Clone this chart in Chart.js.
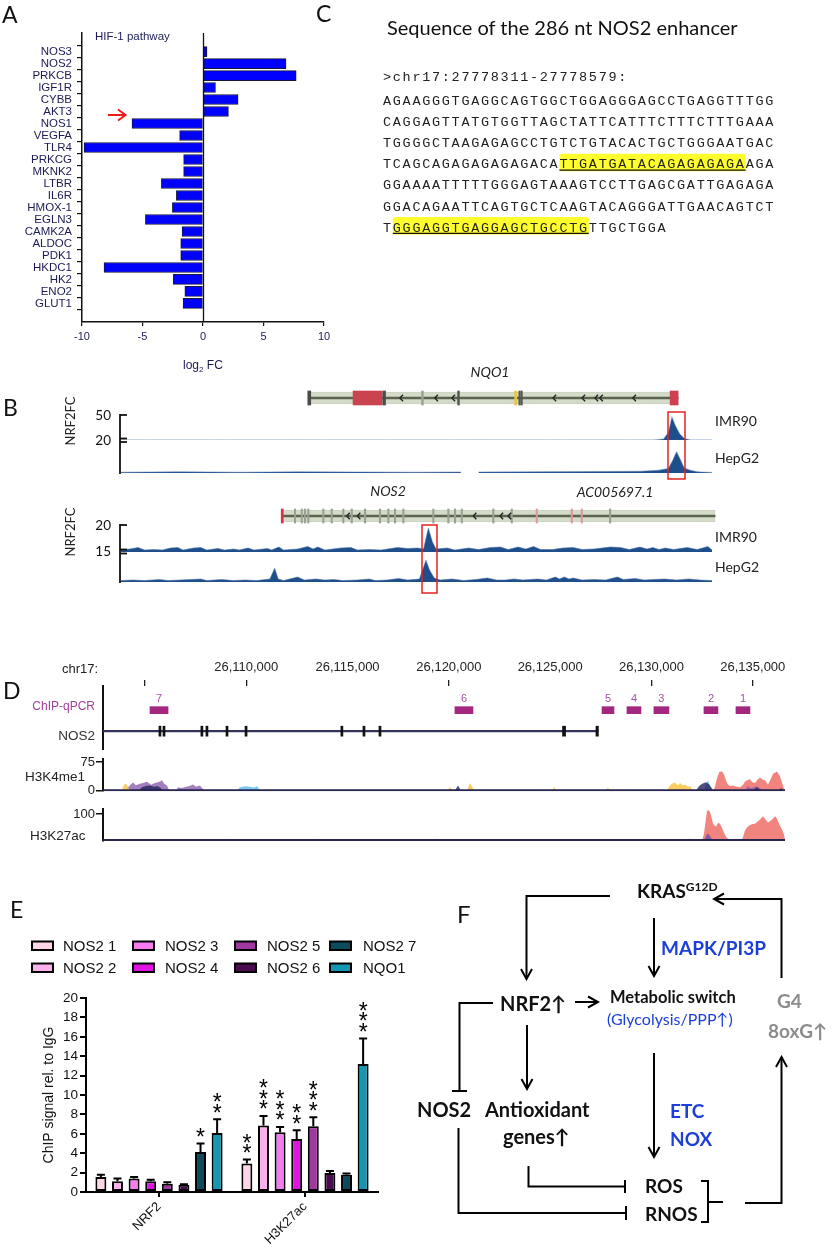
<!DOCTYPE html>
<html><head><meta charset="utf-8">
<script src="https://cdn.jsdelivr.net/npm/chart.js@4.4.0/dist/chart.umd.min.js"></script>
<style>
html,body{margin:0;padding:0;background:#fff}
#page{position:relative;width:837px;height:1256px;overflow:hidden;background:#fff}
canvas{position:absolute}
#ov{position:absolute;left:0;top:0;pointer-events:none}
</style></head>
<body><div id="page"></div>
<script>
// ---------------- Panel A : HIF-1 pathway, log2 FC ----------------
const aGenes = ['NOS3','NOS2','PRKCB','IGF1R','CYBB','AKT3','NOS1','VEGFA','TLR4','PRKCG','MKNK2','LTBR','IL6R','HMOX-1','EGLN3','CAMK2A','ALDOC','PDK1','HKDC1','HK2','ENO2','GLUT1'];
const aLog2FC = [0.33,6.86,7.7,1.03,2.9,2.1,-5.87,-1.93,-9.83,-1.6,-1.6,-3.44,-2.2,-2.53,-4.76,-1.73,-1.84,-1.84,-8.18,-2.45,-1.5,-1.65];
const aTicks = [-10,-5,0,5,10];

// ---------------- Panel B : NRF2 ChIP-seq tracks (position 0-100 along locus, signal) ----------------
const bNqo1Imr90 = [[0,0.2],[15,0.25],[30,0.2],[45,0.25],[60,0.2],[75,0.25],[90,0.2],[91.8,1.2],[92.6,8],[93.2,24],[93.8,15],[94.6,6],[95.4,1.5],[96.5,0.2],[100,0.2]];
const bNqo1HepG2 = [[0,0.8],[10,1.2],[20,0.8],[30,1.2],[40,1],[50,0.8],[57.5,1],[58.5,null],[60.5,1],[70,1.2],[80,1.4],[88,1.8],[91,2.8],[92.6,4.5],[93.3,12],[94.0,21.3],[94.6,14],[95.3,5],[96.3,2.8],[97.5,1.2],[100,0.6]];
const bNos2Imr90 = [[0,2],[1.5,3],[2.9,4.5],[4,2],[5.5,2.5],[7,2],[8.4,4],[9.6,4.5],[10.5,2],[12.3,4],[13.5,4.5],[14.5,2],[16.4,3.5],[17.5,2],[19.1,3],[20,2],[21.5,4],[22.5,2],[24.8,3.5],[25.5,2],[26.7,5],[27.5,2],[29.9,3],[31.6,5.5],[32.5,3],[33.3,5],[34.5,2],[37.2,4],[38.9,4.5],[40,2],[42,2.5],[44,2],[46.8,4.5],[48.5,3.5],[50.2,4],[51.2,3],[52,23.7],[52.7,10],[53.3,3],[55.2,4],[56.5,2],[58.8,4],[60.5,2.5],[62.5,4.5],[64.2,5],[65.5,2.5],[67.2,5],[68.5,3],[69.8,5.5],[71,2.5],[73,2.5],[74.8,4],[76.5,4.5],[78,2.5],[80,3],[82.8,5],[84.5,4.5],[86,2.5],[87.8,5],[89,3],[90,4.5],[91,2.5],[92.1,4],[93.5,2.5],[95.8,4.5],[97.5,2.5],[99.3,5.5],[100,2]];
const bNos2HepG2 = [[0,1.5],[2,2],[4,1.5],[6.5,2.5],[8,1.5],[10,2],[13.5,3],[14.5,1.5],[17,2.5],[19,1.5],[21,2],[23,1.5],[25.2,3],[26,13.7],[26.6,3],[27.5,1.5],[29.9,5],[31,2],[33,3],[34.5,2],[36,2.5],[37.5,1.5],[40,2],[42,3],[43,1.5],[45,2],[47,3.5],[48.5,2],[50.5,3],[51.6,21.7],[52.2,12],[53,4],[54,2],[56,3],[58,1.5],[60,2.5],[62,4],[63.5,2],[65,2],[66.5,3],[68,2],[70.5,3],[72,2],[73.5,5],[74.2,3],[75,5],[75.8,3],[76.5,4],[78,2],[80,2.5],[82,2],[84,5],[85,2.5],[87,3.5],[88.5,2],[90,2.5],[92,3],[94,2],[96,3],[98,2],[100,1.5]];
// gene models (same 0-100 coordinate): [start, end, colour]
const bNqo1Span = [31.8,94.25];
const bNqo1Feats = [[31.6,32.1,'#4a4a4a'],[39.26,44.16,'#c9444f'],[44.3,44.75,'#4a4a4a'],[50.85,51.15,'#9aa094'],[56.95,57.25,'#555555'],[66.6,66.95,'#e6c840'],[67.3,67.55,'#555555'],[67.65,67.9,'#555555'],[92.9,94.25,'#cf4050']];
const bNqo1Chev = [47.2,53.1,56.0,73.1,78.0,80.2,81.0,86.6];
const bNos2Span = [27.24,100.5];
const bNos2Grey = [29.44,30.58,31.13,31.69,34.23,35.65,37.61,39.04,41.29,43.82,45.23,46.36,47.77,52.84,55.38,56.51,57.65,62.99,66.11,82.74];
const bNos2Pink = [70.34,76.26,77.95];
const bNos2Chev = [38.19,39.98,59.61,64.13,65.48];

// ---------------- Panel D : UCSC view, kb offset from chr17:26,100,000 ----------------
const dRange = [2.93, 36.59];
const dRulerTicks = [5,10,15,20,25,30,35];
const dRulerLabels = ['','26,110,000','26,115,000','26,120,000','26,125,000','26,130,000','26,135,000'];
const dRulerHidden = [15,25];
const dPrimerNames = ['7','6','5','4','3','2','1'];
const dPrimerStart = [5.25,20.30,27.56,28.79,30.12,32.59,34.17];
const dPrimerEnd   = [6.14,21.19,28.15,29.48,30.86,33.28,34.86];
const dGene = [2.93,27.36];
const dExonStart = [5.69,5.89,7.76,8.01,9.00,9.94,14.67,15.76,16.55,25.61,27.26];
const dExonEnd   = [5.79,5.99,7.86,8.11,9.10,10.04,14.77,15.86,16.65,25.76,27.38];
const dK4Salmon = [[32.95,0],[33.09,3],[33.15,14],[33.22,30],[33.34,48],[33.48,51],[33.58,42],[33.68,26],[33.78,15],[33.9,12],[34.02,13],[34.2,10],[34.37,9],[34.5,14],[34.62,24],[34.75,28],[34.86,30],[34.98,22],[35.11,20],[35.25,30],[35.36,34],[35.48,29],[35.6,27],[35.75,15],[35.88,30],[36.0,44],[36.2,50],[36.34,38],[36.44,22],[36.52,8],[36.59,0]];
const dK4Purple = [[4.05,0],[4.16,8],[4.3,16],[4.41,21],[4.55,14],[4.75,18],[4.9,20],[5.1,23],[5.3,15],[5.45,19],[5.59,21],[5.75,24],[5.84,27],[5.95,18],[6.09,13],[6.2,0],[6.55,0],[6.63,9],[6.8,7],[6.95,9],[7.2,12],[7.37,16],[7.52,10],[7.71,13],[7.86,4],[7.95,0],[34.6,0],[34.75,12],[34.9,6],[35.2,11],[35.36,6],[35.5,0]];
const dK4Yellow = [[3.85,0],[3.95,12],[4.01,19],[4.12,14],[4.25,0],[19.9,0],[20.05,9],[20.2,0],[20.9,0],[21.04,20],[21.2,5],[21.3,0],[25.1,0],[25.19,10],[25.3,0],[27.75,0],[27.85,8],[27.95,0],[30.75,0],[30.9,12],[31.01,18],[31.16,21],[31.3,14],[31.41,20],[31.55,13],[31.65,16],[31.8,10],[31.9,12],[32.05,0]];
const dK4Blue = [[9.55,0],[9.69,9],[9.94,11],[10.18,10],[10.4,8],[10.53,11],[10.7,0],[32.6,0],[32.72,20],[32.79,27],[32.9,10],[32.97,0]];
const dK4Navy = [[4.7,0],[4.85,9],[5.05,12],[5.25,13],[5.45,10],[5.6,12],[5.75,8],[5.9,0],[20.3,0],[20.45,13],[20.6,0],[32.2,0],[32.35,12],[32.5,18],[32.7,22],[32.85,16],[32.95,8],[33.05,0],[35.0,0],[35.2,9],[35.4,0],[36.25,0],[36.4,7],[36.5,0]];
const dK27Salmon = [[32.5,0],[32.58,20],[32.64,54],[32.74,112],[32.82,114],[32.89,108],[32.97,85],[33.04,63],[33.12,55],[33.19,52],[33.29,66],[33.38,63],[33.46,50],[33.53,38],[33.63,20],[33.73,8],[33.87,0],[34.37,0],[34.47,3],[34.55,20],[34.62,38],[34.74,50],[34.86,58],[35.0,62],[35.11,63],[35.25,72],[35.36,79],[35.5,91],[35.62,80],[35.75,67],[35.85,72],[35.95,79],[36.1,91],[36.18,85],[36.25,71],[36.34,55],[36.44,42],[36.54,21],[36.59,0]];
const dK27Purple = [[32.6,0],[32.68,12],[32.75,25],[32.85,20],[32.92,12],[33.0,0]];
const dK27Yellow = [[4.85,0],[5.0,4],[5.15,0],[9.05,0],[9.2,5],[9.35,0],[12.0,0],[12.1,4],[12.2,0],[13.4,0],[13.5,6],[13.65,0],[19.3,0],[19.4,6],[19.5,0],[31.7,0],[31.85,6],[32.0,0]];
const dBaseline = [[2.93,0.8],[36.59,0.8]];

// ---------------- Panel E : ChIP-qPCR ----------------
const eGroups = ['NRF2','H3K27ac'];
const eSeries = ['NOS2 1','NOS2 2','NOS2 3','NOS2 4','NOS2 5','NOS2 6','NOS2 7','NQO1'];
const eColors = ['#fcd5e7','#fab1ec','#f47cf0','#e014e0','#a0399f','#4b0b4f','#0b4b5b','#1597b3'];
const eMeans = [[1.55,2.93],[1.1,6.85],[1.38,6.16],[1.1,5.47],[0.86,6.78],[0.76,1.96],[4.13,1.79],[6.09,13.2]];
const eErr   = [[0.24,0.41],[0.28,0.99],[0.17,0.55],[0.17,0.9],[0.14,0.93],[0.05,0.21],[0.87,0.11],[1.41,2.63]];
const eStars = [['','**'],['','***'],['','***'],['','**'],['','***'],['',''],['*',''],['**','***']];
const eYTicks = {min:0,max:20,step:2};

// ---------------- Panel C : sequence ----------------
const cHeader = '>chr17:27778311-27778579:';
const cSeq = ['AGAAGGGTGAGGCAGTGGCTGGAGGGAGCCTGAGGTTTGG','CAGGAGTTATGTGGTTAGCTATTCATTTCTTTCTTTGAAA','TGGGGCTAAGAGAGCCTGTCTGTACACTGCTGGGAATGAC','TCAGCAGAGAGAGAGACATTGATGATACAGAGAGAGAAGA','GGAAAATTTTTGGGAGTAAAGTCCTTGAGCGATTGAGAGA','GGACAGAATTCAGTGCTCAAGTACAGGGATTGAACAGTCT','TGGGAGGTGAGGAGCTGCCTGTTGCTGGA'];
const cMotifs = [[3,18,19],[6,1,20]]; // [line, first char, length]

// =================================================================
const page = document.getElementById('page');
const pts = a => a.map(p => ({x:p[0], y:p[1]}));
Chart.defaults.font.family = "'Liberation Sans', Arial, sans-serif";

function mk(left, top, w, h, cfg){
  const c = document.createElement('canvas');
  c.width = w; c.height = h;
  c.style.left = left+'px'; c.style.top = top+'px'; c.style.width = w+'px'; c.style.height = h+'px';
  page.appendChild(c);
  cfg.options = Object.assign({responsive:false, maintainAspectRatio:false, animation:false, devicePixelRatio:1, events:[]}, cfg.options||{});
  cfg.options.plugins = Object.assign({legend:{display:false}, tooltip:{enabled:false}}, cfg.options.plugins||{});
  return new Chart(c, cfg);
}

// ----- Panel A chart
const zeroLine = {id:'zeroLine', afterDatasetsDraw(ch){
  const {ctx, chartArea:a, scales:{x}} = ch; const px = Math.round(x.getPixelForValue(0))+0.5;
  ctx.save(); ctx.strokeStyle='#111'; ctx.lineWidth=1.3; ctx.beginPath(); ctx.moveTo(px,a.top); ctx.lineTo(px,a.bottom); ctx.stroke(); ctx.restore();
}};
mk(0,0,350,380,{
  type:'bar',
  data:{datasets:[{data:aLog2FC.map((v,i)=>({x:v,y:i})), backgroundColor:'#0000ff', borderColor:'#17173d', borderWidth:1, barThickness:10, borderSkipped:false}]},
  options:{indexAxis:'y', layout:{padding:{top:33,right:26,left:0,bottom:0}},
    scales:{
      x:{type:'linear', min:-10, max:10, afterFit:s=>{s.height=58}, afterBuildTicks:s=>{s.ticks=aTicks.map(v=>({value:v}))},
         ticks:{callback:v=>String(v), font:{size:11}, color:'#1b1b55', padding:4, maxRotation:0, autoSkip:false},
         grid:{drawOnChartArea:false, tickLength:4, color:'#111', lineWidth:1.2}, border:{color:'#111', width:1.5}},
      y:{type:'linear', reverse:true, min:-1, max:22, afterFit:s=>{s.width=82}, afterBuildTicks:s=>{s.ticks=aGenes.map((g,i)=>({value:i}))},
         ticks:{callback:v=>aGenes[v], font:{size:11.5}, color:'#1b1b55', padding:5, autoSkip:false},
         grid:{drawOnChartArea:false, tickLength:5, color:'#111', lineWidth:1.2}, border:{color:'#111', width:1.5}}
    }},
  plugins:[zeroLine]
});

// ----- Panel B tracks
function bTrack(top, h, ymax, data, edge){
  return mk(121, top, 591, h, {type:'line',
    data:{datasets:[{data:pts(data), fill:'origin', backgroundColor:'#1f4f8a', borderColor:edge, borderWidth:1, pointRadius:0, tension:0, spanGaps:false}]},
    options:{layout:{padding:0}, scales:{x:{type:'linear',min:0,max:100,display:false}, y:{min:0,max:ymax,display:false}}}});
}
bTrack(415,25,25,bNqo1Imr90,'rgba(200,214,230,0.6)');
bTrack(440,33,33,bNqo1HepG2,'rgba(90,130,180,0.5)');
bTrack(527,25,25,bNos2Imr90,'rgba(70,110,165,0.55)');
bTrack(557,25,25,bNos2HepG2,'rgba(70,110,165,0.55)');

function chevPlugin(list){ return {id:'chev', afterDatasetsDraw(ch){
  const {ctx, scales:{x,y}} = ch; const cy = y.getPixelForValue(1);
  ctx.save(); ctx.strokeStyle='#222'; ctx.lineWidth=1.4; ctx.beginPath();
  list.forEach(v=>{const px=x.getPixelForValue(v); ctx.moveTo(px+3,cy-3.2); ctx.lineTo(px,cy); ctx.lineTo(px+3,cy+3.2);});
  ctx.stroke(); ctx.restore();
}};}
function geneChart(top, span, feats, chev){
  return mk(121, top, 597, 16, {type:'bar',
    data:{datasets:[
      {data:feats.map(f=>({x:[f[0],f[1]],y:1})), backgroundColor:feats.map(f=>f[2]), barThickness:14, grouped:false},
      {data:[{x:span,y:1}], backgroundColor:'#59644f', barThickness:1.6, grouped:false},
      {data:[{x:span,y:1}], backgroundColor:'#d4dbc8', borderColor:'#b8c0ab', borderWidth:0.6, barThickness:12, grouped:false}
    ]},
    options:{indexAxis:'y', layout:{padding:0}, scales:{x:{type:'linear',min:0,max:101,display:false}, y:{type:'linear',min:0,max:2,display:false}}},
    plugins:[chevPlugin(chev)]});
}
geneChart(390, bNqo1Span, bNqo1Feats, bNqo1Chev);
const nos2Feats = [[27.1,27.45,'#d03545']].concat(bNos2Grey.map(p=>[p-0.12,p+0.12,'#9aa094']), bNos2Pink.map(p=>[p-0.12,p+0.12,'#e0959d']));
geneChart(508, bNos2Span, nos2Feats, bNos2Chev);

// ----- Panel D
const primerLabels = {id:'primerLabels', afterDatasetsDraw(ch){
  const meta = ch.getDatasetMeta(0), ctx = ch.ctx; ctx.save();
  ctx.fillStyle='#a452a4'; ctx.font="11px 'Liberation Sans'"; ctx.textAlign='center'; ctx.textBaseline='middle';
  meta.data.forEach((el,i)=>ctx.fillText(dPrimerNames[i], (el.x+el.base)/2, el.y-11));
  ctx.restore();
}};
mk(0,650,800,100,{type:'bar',
  data:{datasets:[
    {data:dPrimerStart.map((s,i)=>({x:[s,dPrimerEnd[i]],y:1})), backgroundColor:'#a3267f', barThickness:7, grouped:false},
    {data:dExonStart.map((s,i)=>({x:[s,dExonEnd[i]],y:2})), backgroundColor:'#111', barThickness:10, grouped:false},
    {data:[{x:dGene,y:2}], backgroundColor:'#33335e', barThickness:1.5, grouped:false}
  ]},
  options:{indexAxis:'y', layout:{padding:{left:0,right:15,top:0,bottom:0}},
    scales:{
      x:{type:'linear', position:'top', min:dRange[0], max:dRange[1], afterFit:s=>{s.height=36}, afterBuildTicks:s=>{s.ticks=dRulerTicks.map(v=>({value:v}))},
         ticks:{callback:(v,i)=>dRulerLabels[i], font:{size:13}, color:'#222', padding:5, maxRotation:0, autoSkip:false},
         grid:{drawOnChartArea:false, tickLength:6, lineWidth:1.3, color:c=>(c.tick && dRulerHidden.includes(c.tick.value)) ? 'rgba(0,0,0,0)' : '#222'},
         border:{display:false}},
      y:{type:'linear', reverse:true, min:0.23, max:2.515, afterFit:s=>{s.width=103}, ticks:{display:false},
         grid:{display:true, drawOnChartArea:false, drawTicks:false, color:'rgba(0,0,0,0)'}, border:{display:true, color:'#111', width:2}}
    }},
  plugins:[primerLabels]});

function dTrack(top, ymin, ymax, yticks, sets){
  return mk(0, top, 800, 50, {type:'line',
    data:{datasets:sets.map(s=>({data:pts(s.d), fill:s.line?false:'origin', backgroundColor:s.c, borderColor:s.line?s.c:'rgba(0,0,0,0)', borderWidth:s.line?2:0, pointRadius:0, tension:0}))},
    options:{layout:{padding:{left:0,right:15,top:0,bottom:0}},
      scales:{x:{type:'linear',min:dRange[0],max:dRange[1],display:false},
        y:{min:ymin,max:ymax, afterFit:s=>{s.width=103}, afterBuildTicks:s=>{s.ticks=yticks.map(v=>({value:v}))},
           ticks:{callback:v=>String(v), font:{size:13}, color:'#222', padding:1, autoSkip:false},
           grid:{drawOnChartArea:false, tickLength:7, color:'#111', lineWidth:1.5}, border:{color:'#111', width:2}}}}});
}
dTrack(750, -1.7, 83.5, [0,75], [
  {d:dBaseline, c:'#26264f', line:true},
  {d:dK4Navy, c:'rgba(35,35,95,0.8)'},
  {d:dK4Blue, c:'rgba(100,190,240,0.85)'},
  {d:dK4Yellow, c:'rgba(250,200,80,0.9)'},
  {d:dK4Purple, c:'rgba(140,95,175,0.8)'},
  {d:dK4Salmon, c:'rgba(240,125,120,0.95)'}
]);
dTrack(800, -4.2, 119.8, [100], [
  {d:dBaseline, c:'#26264f', line:true},
  {d:dK27Yellow, c:'rgba(250,200,80,0.9)'},
  {d:dK27Purple, c:'rgba(110,80,160,0.8)'},
  {d:dK27Salmon, c:'rgba(240,125,120,0.95)'}
]);

// ----- Panel E chart
const errBars = {id:'errBars', afterDatasetsDraw(ch){
  const {ctx, scales:{y}} = ch; ctx.save();
  ch.data.datasets.forEach((ds,i)=>{
    ch.getDatasetMeta(i).data.forEach((bar,j)=>{
      const yt = y.getPixelForValue(eMeans[i][j]+eErr[i][j]);
      ctx.strokeStyle='#000'; ctx.lineWidth=2; ctx.beginPath();
      ctx.moveTo(bar.x,bar.y); ctx.lineTo(bar.x,yt); ctx.moveTo(bar.x-4,yt); ctx.lineTo(bar.x+4,yt); ctx.stroke();
      const s = eStars[i][j];
      ctx.fillStyle='#000'; ctx.font="23px 'Liberation Sans'"; ctx.textAlign='center'; ctx.textBaseline='alphabetic';
      for(let k=0;k<s.length;k++){ const cy = yt-12-k*10.5; ctx.fillText('*', bar.x, cy+13.5); }
    });
  });
  ctx.restore();
}};
mk(0,985,420,271,{type:'bar',
  data:{labels:eGroups, datasets:eSeries.map((n,i)=>({label:n, data:eMeans[i], backgroundColor:eColors[i], borderColor:'#000', borderWidth:2, borderSkipped:false, categoryPercentage:0.91, barPercentage:0.66}))},
  options:{layout:{padding:{left:37,top:13,right:42,bottom:0}},
    scales:{
      x:{afterFit:s=>{s.height=64}, grid:{offset:false, drawOnChartArea:false, tickLength:5, color:'#000', lineWidth:2}, border:{width:2,color:'#000'},
         ticks:{minRotation:45, maxRotation:45, font:{size:13}, color:'#111', padding:2}},
      y:{min:eYTicks.min, max:eYTicks.max, afterFit:s=>{s.width=49}, ticks:{stepSize:eYTicks.step, font:{size:13.5}, color:'#111', padding:2},
         grid:{drawOnChartArea:false, tickLength:6, color:'#000', lineWidth:2}, border:{width:2,color:'#000'},
         title:{display:true, text:'ChIP signal rel. to IgG', font:{size:14}, color:'#111', padding:{top:4,bottom:0}}}
    }},
  plugins:[errBars]});

// ================= SVG overlay (text, schematic) =================
const L = 'font-family="Lato, sans-serif"';
const LS = 'font-family="Liberation Sans, Arial, sans-serif"';
const LM = 'font-family="Liberation Mono, monospace"';
let s = `<svg id="ov" width="837" height="1256" xmlns="http://www.w3.org/2000/svg">
<defs><marker id="ah" viewBox="0 0 14 14" refX="12" refY="7" markerWidth="14" markerHeight="14" markerUnits="userSpaceOnUse" orient="auto"><path d="M2,1.5 L12,7 L2,12.5" fill="none" stroke="#000" stroke-width="2"/></marker></defs>`;
// panel letters
s += `<g ${L} font-size="23" fill="#111"><text x="2" y="23">A</text><text x="316" y="22">C</text><text x="3" y="416">B</text><text x="3" y="699">D</text><text x="10" y="918">E</text><text x="457" y="923" font-size="24">F</text></g>`;
// A
s += `<text x="95" y="40" ${LS} font-size="11.5" fill="#1b1b55">HIF-1 pathway</text>`;
s += `<g stroke="#f01818" stroke-width="2" fill="none"><line x1="108" y1="115" x2="125" y2="115"/><path d="M118,109.5 L125.5,115 L118,120.5"/></g>`;
s += `<text x="183" y="369" ${LS} font-size="12" fill="#1b1b55">log<tspan font-size="8" dy="3">2</tspan><tspan dy="-3"> FC</tspan></text>`;
// C
s += `<text x="387" y="35" ${L} font-size="20" fill="#111">Sequence of the 286 nt NOS2 enhancer</text>`;
const cx0 = 383, cw = 9.8, cy0 = 105, cdy = 21.1;
s += `<text x="${cx0}" y="81" ${LM} font-size="13.5" letter-spacing="1.7" fill="#222">&gt;chr17:27778311-27778579:</text>`;
cMotifs.forEach(m=>{ const by = cy0 + m[0]*cdy; const x = cx0 + m[1]*cw, w = m[2]*cw;
  s += `<rect x="${x}" y="${by-14.5}" width="${w}" height="17.5" rx="2" fill="#ffff2e"/><line x1="${x}" y1="${by+1.8}" x2="${x+w}" y2="${by+1.8}" stroke="#111" stroke-width="1.2"/>`; });
cSeq.forEach((line,i)=>{ s += `<text x="${cx0}" y="${cy0+i*cdy}" ${LM} font-size="13.5" letter-spacing="1.7" fill="#222">${line}</text>`; });
// B axes / labels
s += `<g stroke="#111" stroke-width="1.8" fill="none">
<line x1="120" y1="414" x2="120" y2="474"/><line x1="120" y1="415" x2="127" y2="415"/>
<line x1="120" y1="438.5" x2="127" y2="438.5"/><line x1="120" y1="442" x2="127" y2="442"/>
<line x1="120" y1="524" x2="120" y2="583"/><line x1="120" y1="525" x2="127" y2="525"/>
<line x1="120" y1="549.5" x2="127" y2="549.5"/><line x1="120" y1="553.5" x2="127" y2="553.5"/></g>`;
s += `<g ${L} font-size="13.5" fill="#111" text-anchor="end"><text x="111" y="420">50</text><text x="111" y="445">20</text><text x="111" y="530">20</text><text x="111" y="556">15</text></g>`;
s += `<g ${L} font-size="13" fill="#222" text-anchor="middle"><text transform="translate(74.5,421) rotate(-90)">NRF2FC</text><text transform="translate(74.5,532) rotate(-90)">NRF2FC</text></g>`;
s += `<g ${L} font-size="14" fill="#222"><text x="715" y="426">IMR90</text><text x="715" y="463">HepG2</text><text x="715" y="542">IMR90</text><text x="715" y="572">HepG2</text></g>`;
s += `<g ${L} font-size="14" font-style="italic" fill="#222" text-anchor="middle"><text x="490" y="377">NQO1</text><text x="388" y="496">NOS2</text><text x="615" y="497">AC005697.1</text></g>`;
s += `<g fill="none" stroke="#e62020" stroke-width="1.5"><rect x="668" y="412" width="17" height="67"/><rect x="422" y="525" width="15" height="68"/></g>`;
// D labels
s += `<text x="62" y="673" ${LS} font-size="13" fill="#222">chr17:</text>`;
s += `<text x="95" y="710" ${LS} font-size="12" fill="#a3409a" text-anchor="end">ChIP-qPCR</text>`;
s += `<text x="95" y="740" ${LS} font-size="13.5" fill="#333" text-anchor="end">NOS2</text>`;
s += `<text x="25" y="781" ${LS} font-size="13.5" fill="#222">H3K4me1</text><text x="30" y="840" ${LS} font-size="13.5" fill="#222">H3K27ac</text>`;
// E legend
const legX = [32,133,235,330], legTX = [63,165,267,363];
eSeries.forEach((n,i)=>{ const c = Math.floor(i/2), r = i%2;
  s += `<rect x="${legX[c]}" y="${941.5+r*22}" width="21" height="8.5" fill="${eColors[i]}" stroke="#000" stroke-width="2"/>`;
  s += `<text x="${legTX[c]}" y="${950.5+r*22}" ${LS} font-size="15" fill="#111">${n}</text>`; });
// F schematic
const B='#1d3fd9', G='#8c8c8c';
s += `<g ${L} font-weight="700" font-size="19" fill="#111">
<text x="637" y="898">KRAS<tspan font-size="12" dy="-7">G12D</tspan></text>
<text x="661" y="955" fill="${B}">MAPK/PI3P</text>
<text x="777" y="1008" fill="${G}">G4</text><text x="768" y="1038" fill="${G}">8oxG↑</text>
<text x="500" y="1011" font-size="20">NRF2↑</text>
<text x="610" y="1003" font-size="16.5">Metabolic switch</text>
<text x="607" y="1025" font-size="16" font-weight="400" fill="${B}">(Glycolysis/PPP↑)</text>
<text x="417" y="1117" font-size="20">NOS2</text><text x="485" y="1117" font-size="20">Antioxidant</text><text x="503" y="1144" font-size="20">genes↑</text>
<text x="670" y="1118" fill="${B}">ETC</text><text x="670" y="1146" fill="${B}">NOX</text>
<text x="645" y="1193">ROS</text><text x="645" y="1221">RNOS</text></g>`;
s += `<g fill="none" stroke="#000" stroke-width="2">
<polyline points="610,896 526.5,896 526.5,979" marker-end="url(#ah)"/>
<line x1="654" y1="918" x2="654" y2="976" marker-end="url(#ah)"/>
<polyline points="781.5,978 781.5,899 714,899" marker-end="url(#ah)"/>
<line x1="575" y1="1002" x2="598" y2="1002" marker-end="url(#ah)"/>
<polyline points="493,1003 459.5,1003 459.5,1091"/><line x1="452" y1="1091" x2="467" y2="1091"/>
<line x1="527" y1="1025" x2="527" y2="1089" marker-end="url(#ah)"/>
<line x1="654" y1="1053" x2="654" y2="1157" marker-end="url(#ah)"/>
<polyline points="701,1181 708,1181 708,1222 701,1222"/><line x1="708" y1="1202" x2="723" y2="1202"/>
<polyline points="745,1203 781.5,1203 781.5,1057" marker-end="url(#ah)"/>
<polyline points="528.5,1166 528.5,1186.5 625,1186.5"/><line x1="625" y1="1180" x2="625" y2="1193"/>
<polyline points="458.5,1128 458.5,1213 626,1213"/><line x1="626" y1="1206" x2="626" y2="1220"/>
</g>`;
s += `</svg>`;
page.insertAdjacentHTML('beforeend', s);
</script>
</body></html>
